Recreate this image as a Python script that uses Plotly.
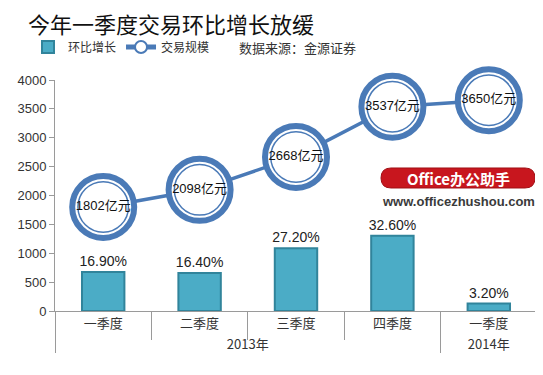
import plotly.graph_objects as go

years = ["2013年", "2013年", "2013年", "2013年", "2014年"]
quarters = ["一季度", "二季度", "三季度", "四季度", "一季度"]
growth_pct = [16.9, 16.4, 27.2, 32.6, 3.2]
volume = [1802, 2098, 2668, 3537, 3650]
y_ticks = [0, 500, 1000, 1500, 2000, 2500, 3000, 3500, 4000]

FONT = "Liberation Sans, Arial, Noto Sans CJK SC, sans-serif"
CJK = "Noto Sans CJK SC, sans-serif"
BLUE = "#4a7ab7"

x = [years, quarters]

fig = go.Figure()

fig.add_trace(go.Bar(
    x=x, y=growth_pct, yaxis="y2", name="环比增长",
    marker=dict(color="#4bacc6", line=dict(color="#31849b", width=2)),
    width=0.44,
    text=[f"{v:.2f}%" for v in growth_pct], textposition="outside",
    constraintext="none",
    textfont=dict(family=FONT, size=14, color="#222"),
    cliponaxis=False,
))

fig.add_trace(go.Scatter(
    x=x, y=volume, name="交易规模", mode="lines+markers",
    line=dict(color=BLUE, width=3.5),
    marker=dict(size=62, color="white", line=dict(color=BLUE, width=6)),
    cliponaxis=False,
))
fig.add_trace(go.Scatter(
    x=x, y=volume, mode="markers+text", showlegend=False,
    marker=dict(size=50.5, color="rgba(255,255,255,0)", line=dict(color=BLUE, width=1.5)),
    text=[f"{v}亿元" for v in volume], textposition="middle center",
    textfont=dict(family=FONT, size=13, color="#111"),
    cliponaxis=False, hoverinfo="skip",
))

# screen-pixel -> paper coordinates (plot area spans x 55..537, y 80..311 on screen)
def px_x(p):
    return (p - 55) / 482

def px_y(p):
    return (311 - p) / 231

def P(xp, yp):
    return f"{px_x(xp):.5f},{px_y(yp):.5f}"

# rounded badge behind the watermark text
bx0, bx1, by0, by1, rr = 381, 535, 168, 188, 10
badge_path = (
    f"M{P(bx0 + rr, by0)} L{P(bx1 - rr, by0)} Q{P(bx1, by0)} {P(bx1, by0 + rr)} "
    f"Q{P(bx1, by1)} {P(bx1 - rr, by1)} L{P(bx0 + rr, by1)} "
    f"Q{P(bx0, by1)} {P(bx0, by1 - rr)} Q{P(bx0, by0)} {P(bx0 + rr, by0)} Z"
)

fig.update_layout(
    template="none",
    width=535, height=367,
    margin=dict(l=47, r=6, t=72, b=64, autoexpand=False),
    paper_bgcolor="white", plot_bgcolor="white",
    font=dict(family=FONT, size=12, color="#333"),
    showlegend=True,
    legend=dict(orientation="h", x=px_x(28), xanchor="left", y=px_y(47), yanchor="middle",
                font=dict(family=CJK, size=12, color="#333"),
                itemwidth=30, itemsizing="constant", bgcolor="rgba(0,0,0,0)"),
    xaxis=dict(
        type="multicategory", range=[-0.5, 4.5], autorange=False,
        showline=True, linecolor="#9a9a9a", linewidth=1,
        ticks="outside", tickson="boundaries", ticklen=28, tickcolor="#9a9a9a",
        showdividers=True, dividercolor="#9a9a9a", dividerwidth=1,
        tickfont=dict(family=CJK, size=13, color="#333"),
        showgrid=False, zeroline=False, automargin=False,
    ),
    yaxis=dict(
        range=[0, 4000], tickvals=y_ticks, showline=True, linecolor="#9a9a9a",
        ticks="outside", ticklen=5, tickcolor="#9a9a9a", showgrid=False,
        zeroline=False, tickfont=dict(family=FONT, size=13, color="#333"),
        automargin=False,
    ),
    yaxis2=dict(range=[0, 100], overlaying="y", visible=False),
    shapes=[dict(type="path", xref="paper", yref="paper", path=badge_path,
                 fillcolor="#c8161e", line=dict(color="#a01015", width=1), layer="above")],
    annotations=[
        dict(text="今年一季度交易环比增长放缓", xref="paper", yref="paper",
             x=px_x(26), y=px_y(23.5), xanchor="left", yanchor="middle", showarrow=False,
             font=dict(family=CJK, size=22, color="#111")),
        dict(text="数据来源：金源证券", xref="paper", yref="paper",
             x=px_x(237), y=px_y(47), xanchor="left", yanchor="middle", showarrow=False,
             font=dict(family=CJK, size=13, color="#333")),
        dict(text="<b>Office办公助手</b>", xref="paper", yref="paper",
             x=px_x(458), y=px_y(178), xanchor="center", yanchor="middle", showarrow=False,
             font=dict(family=CJK, size=15, color="white")),
        dict(text="<b>www.officezhushou.com</b>", xref="paper", yref="paper",
             x=px_x(458), y=px_y(201), xanchor="center", yanchor="middle", showarrow=False,
             font=dict(family=FONT, size=13, color="#3a3a3a")),
    ],
)

fig.write_html("out.html")
